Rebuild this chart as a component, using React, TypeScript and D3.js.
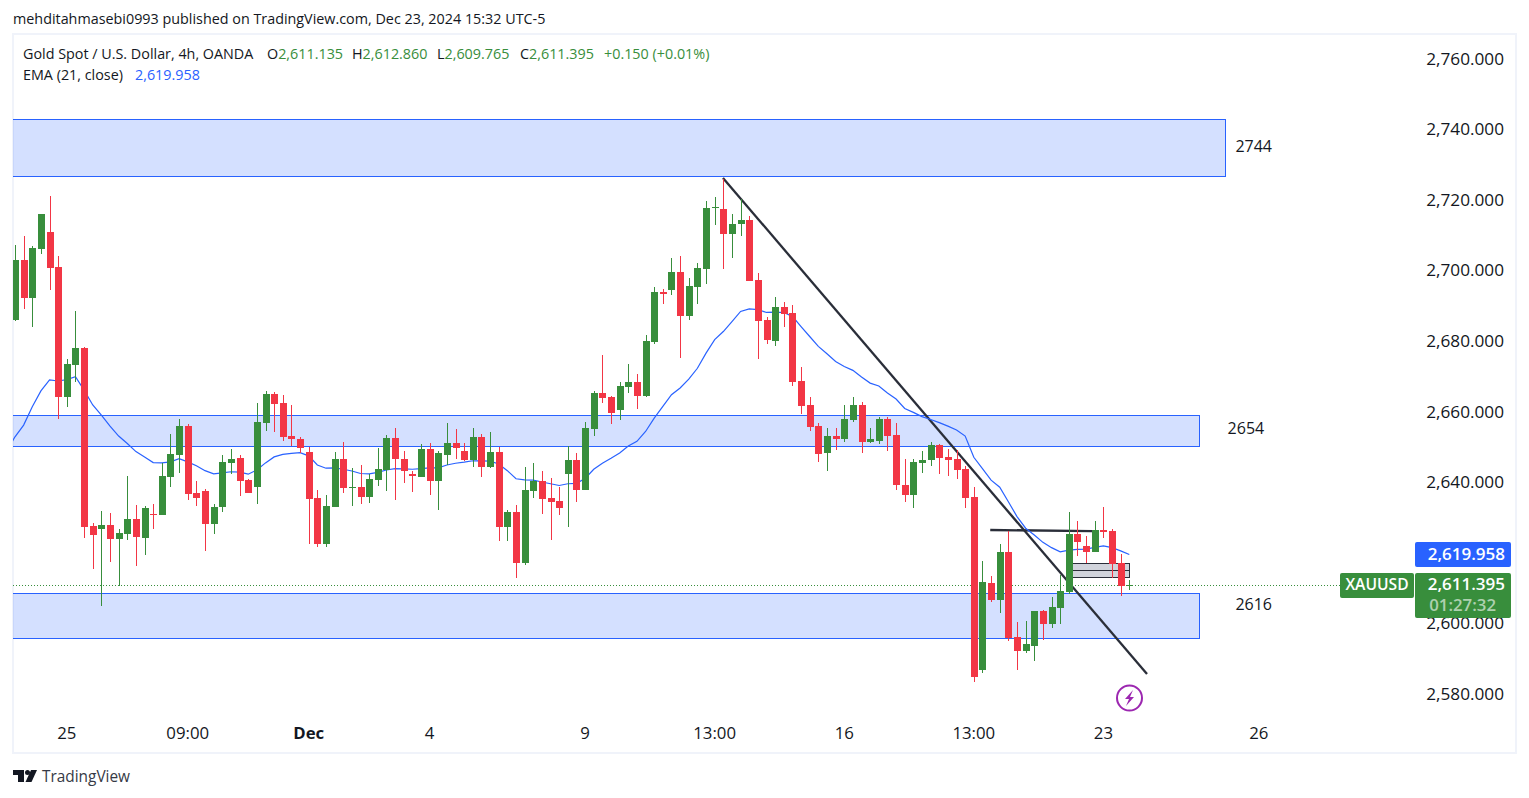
import * as d3 from 'd3';

const W = 1529, H = 798;
const PLOT_L = 13, PLOT_R = 1515, PLOT_T = 35, PLOT_B = 753;
const UP = '#388e3c', DOWN = '#f23645', BLUE = '#2962ff', INK = '#131722';
const FONT = "'Open Sans', sans-serif";

const opens = [
  2686.4, 2703.3, 2692.7, 2706.5, 2711.3, 2701.4, 2664.5, 2673.6, 2678.4, 2628.0,
  2627.2, 2628.3, 2624.3, 2625.7, 2630.0, 2624.6, 2631.4, 2631.1, 2641.9, 2648.1,
  2656.3, 2637.4, 2637.9, 2628.6, 2633.4, 2645.9, 2647.3, 2641.0, 2639.1, 2657.2,
  2665.4, 2662.8, 2653.5, 2652.7, 2649.0, 2636.0, 2622.9, 2633.4, 2647.0, 2638.8,
  2639.1, 2636.2, 2641.1, 2643.9, 2652.9, 2647.0, 2642.8, 2641.9, 2649.8, 2640.8,
  2648.1, 2651.5, 2649.3, 2646.7, 2653.2, 2644.7, 2649.0, 2627.7, 2632.0, 2617.5,
  2637.9, 2640.8, 2636.0, 2635.1, 2642.8, 2646.7, 2638.2, 2655.5, 2665.7, 2664.6,
  2660.9, 2667.4, 2668.9, 2664.9, 2680.2, 2694.3, 2694.9, 2700.0, 2687.6, 2695.8,
  2700.9, 2718.1, 2717.9, 2710.8, 2713.6, 2714.7, 2697.7, 2686.4, 2680.5, 2690.1,
  2688.4, 2669.1, 2662.3, 2656.4, 2648.8, 2653.6, 2652.7, 2658.1, 2662.3, 2651.9,
  2652.2, 2658.3, 2653.8, 2639.6, 2636.8, 2645.9, 2646.7, 2651.0, 2647.6, 2647.0,
  2644.2, 2636.2, 2587.2, 2611.9, 2607.1, 2620.7, 2596.6, 2592.6, 2594.0, 2603.9,
  2600.3, 2604.8, 2609.3, 2625.8, 2622.4, 2620.7, 2626.9, 2626.6, 2617.5, 2611.135,
];
const highs = [
  2707.6, 2710.1, 2707.3, 2716.4, 2721.5, 2704.5, 2675.3, 2688.9, 2678.7, 2628.9,
  2632.3, 2631.7, 2627.2, 2642.2, 2634.0, 2633.7, 2634.2, 2645.8, 2654.1, 2658.3,
  2656.9, 2640.8, 2638.5, 2634.2, 2648.1, 2649.8, 2648.1, 2641.3, 2662.8, 2666.2,
  2666.0, 2665.1, 2662.3, 2653.2, 2650.5, 2638.2, 2636.8, 2649.0, 2651.8, 2644.5,
  2645.3, 2642.8, 2650.1, 2653.8, 2655.8, 2649.3, 2643.6, 2651.2, 2651.5, 2649.3,
  2657.2, 2655.5, 2651.5, 2655.8, 2654.1, 2654.6, 2650.4, 2632.6, 2634.0, 2644.7,
  2645.9, 2643.6, 2641.6, 2639.1, 2650.7, 2648.7, 2657.5, 2666.3, 2676.5, 2664.9,
  2668.9, 2674.0, 2671.1, 2682.2, 2695.8, 2695.2, 2704.0, 2704.5, 2698.3, 2702.6,
  2720.1, 2721.3, 2726.4, 2716.4, 2720.7, 2715.9, 2699.7, 2687.3, 2692.9, 2691.5,
  2690.7, 2673.1, 2664.6, 2657.3, 2655.8, 2655.8, 2662.3, 2664.6, 2663.2, 2655.8,
  2658.9, 2658.9, 2657.2, 2647.0, 2647.0, 2649.3, 2651.8, 2651.2, 2649.8, 2649.5,
  2645.0, 2639.1, 2618.1, 2613.9, 2622.9, 2626.6, 2600.8, 2601.1, 2603.9, 2604.2,
  2607.9, 2614.1, 2632.0, 2629.4, 2625.2, 2629.4, 2633.4, 2627.2, 2620.1, 2612.86,
];
const lows = [
  2686.1, 2689.5, 2684.4, 2705.0, 2694.8, 2658.3, 2661.7, 2668.8, 2624.6, 2615.8,
  2605.4, 2617.8, 2611.0, 2624.0, 2616.7, 2619.8, 2627.2, 2631.1, 2639.1, 2643.0,
  2635.4, 2633.7, 2620.9, 2625.7, 2632.0, 2642.7, 2636.5, 2637.4, 2634.2, 2654.9,
  2654.6, 2652.1, 2650.7, 2648.6, 2622.9, 2622.1, 2622.1, 2633.4, 2637.4, 2633.7,
  2634.3, 2634.5, 2639.4, 2637.9, 2635.4, 2640.2, 2637.7, 2641.9, 2636.8, 2632.6,
  2645.3, 2647.0, 2646.4, 2644.7, 2641.9, 2644.5, 2623.8, 2623.8, 2613.3, 2617.0,
  2636.0, 2631.4, 2624.1, 2631.1, 2627.7, 2634.8, 2638.2, 2653.5, 2662.9, 2657.0,
  2658.1, 2665.7, 2661.2, 2664.6, 2679.6, 2691.0, 2693.5, 2675.7, 2686.4, 2691.0,
  2696.6, 2713.3, 2700.9, 2704.0, 2710.2, 2697.5, 2675.4, 2679.6, 2679.1, 2684.4,
  2667.7, 2659.8, 2655.0, 2646.2, 2643.7, 2649.6, 2651.9, 2657.5, 2648.8, 2651.6,
  2651.3, 2649.3, 2638.2, 2634.8, 2633.1, 2643.0, 2645.0, 2642.7, 2642.2, 2641.3,
  2633.1, 2583.8, 2586.4, 2606.5, 2603.4, 2595.4, 2587.2, 2592.1, 2589.8, 2595.7,
  2599.1, 2600.3, 2608.8, 2619.5, 2617.5, 2620.7, 2624.6, 2613.3, 2608.2, 2609.765,
];
const closes = [
  2703.3, 2692.7, 2706.7, 2716.4, 2701.1, 2664.5, 2673.9, 2678.4, 2627.7, 2625.5,
  2628.3, 2624.3, 2626.0, 2630.0, 2624.9, 2633.1, 2631.1, 2642.2, 2648.4, 2656.3,
  2637.1, 2635.9, 2628.6, 2633.4, 2646.1, 2647.0, 2640.8, 2637.4, 2657.5, 2665.4,
  2662.6, 2653.2, 2652.7, 2650.1, 2635.7, 2622.9, 2633.7, 2647.0, 2638.8, 2639.1,
  2636.2, 2641.3, 2644.2, 2652.9, 2647.0, 2643.6, 2642.2, 2649.8, 2640.8, 2648.7,
  2651.5, 2650.1, 2646.7, 2653.2, 2644.7, 2649.0, 2627.7, 2632.0, 2617.5, 2638.2,
  2640.8, 2635.7, 2634.8, 2633.1, 2646.7, 2638.2, 2655.8, 2665.7, 2664.3, 2660.1,
  2667.7, 2668.9, 2664.9, 2680.5, 2694.3, 2693.8, 2700.0, 2687.6, 2696.0, 2701.1,
  2718.1, 2718.4, 2710.8, 2713.6, 2714.7, 2697.5, 2686.1, 2680.8, 2690.1, 2688.1,
  2668.9, 2662.1, 2656.1, 2648.5, 2653.6, 2652.7, 2658.4, 2662.3, 2651.9, 2652.7,
  2658.4, 2653.5, 2639.6, 2636.8, 2646.1, 2646.7, 2651.0, 2647.3, 2646.7, 2643.9,
  2635.9, 2585.3, 2612.2, 2607.1, 2620.7, 2596.3, 2592.6, 2594.6, 2603.9, 2600.3,
  2605.1, 2609.6, 2625.8, 2623.5, 2620.7, 2626.9, 2626.3, 2617.3, 2611.0, 2611.395,
];
// EMA (21, close), one reading per slot; slot 0 sits just off the left edge
const ema = [
  2649.0,
  2653.3, 2656.6, 2661.8, 2666.3, 2669.4, 2669.1, 2669.5, 2670.3, 2666.5, 2662.3,
  2659.4, 2656.3, 2653.5, 2651.4, 2649.1, 2647.6, 2646.0, 2645.9, 2646.2, 2647.1,
  2646.2, 2645.1, 2643.7, 2642.8, 2643.1, 2643.4, 2643.3, 2642.7, 2643.9, 2645.9,
  2647.6, 2648.3, 2648.6, 2648.8, 2647.9, 2645.3, 2644.4, 2644.5, 2644.1, 2643.6,
  2642.9, 2642.8, 2643.2, 2643.9, 2644.3, 2644.2, 2644.1, 2644.3, 2644.5, 2644.5,
  2645.3, 2645.8, 2646.1, 2646.5, 2646.5, 2646.4, 2645.6, 2643.7, 2641.4, 2641.1,
  2641.0, 2640.5, 2640.0, 2639.5, 2640.0, 2640.1, 2641.5, 2644.1, 2645.8, 2647.2,
  2648.7, 2650.7, 2652.0, 2654.8, 2658.6, 2661.9, 2665.2, 2667.1, 2669.6, 2672.7,
  2677.0, 2680.8, 2683.1, 2685.9, 2688.8, 2689.5, 2689.3, 2688.5, 2688.6, 2688.5,
  2687.4, 2684.5, 2681.7, 2678.9, 2676.8, 2674.6, 2673.2, 2672.1, 2670.2, 2668.5,
  2667.7, 2665.7, 2664.0, 2661.3, 2660.2, 2659.0, 2658.2, 2657.3, 2656.3, 2655.2,
  2653.5, 2647.5, 2644.3, 2641.0, 2639.0, 2634.9, 2630.7, 2627.4, 2625.5, 2623.4,
  2621.9, 2620.7, 2621.2, 2621.4, 2621.5, 2622.0, 2622.4, 2621.9, 2621.0, 2619.958,
];

const priceTicks = [2760, 2740, 2720, 2700, 2680, 2660, 2640, 2620, 2600, 2580];
const timeLabels = ['25', '09:00', 'Dec', '4', '9', '13:00', '16', '13:00', '23', '26'];
const timeSlots = [7, 21, 35, 49, 67, 82, 97, 112, 127, 145];
const lastPrice = 2611.395;
const lastEma = 2619.958;

// supply / demand boxes and their hand-placed labels
const zoneLows = [2727.1, 2650.6, 2596.2];
const zoneHighs = [2743.3, 2659.4, 2609.0];
const zoneEnds = [141.1, 138.07, 138.07];
const zoneLabels = ['2744', '2654', '2616'];
const zoneLabelSlots = [144.4, 143.5, 144.4];
const zoneLabelPrices = [2735.6, 2655.8, 2605.9];

const crisp = (v: number) => Math.round(v) + 0.5;

export default function App() {
  const x = d3.scaleLinear().domain([1, 130]).range([15, 1129.3]);
  const y = d3.scaleLinear().domain([2580, 2760]).range([695.6, 60]);
  const emaLine = d3.line<number>().x((_, i) => x(i)).y((d) => y(d));

  const legendGreen = [
    ['O', '2,611.135'], ['H', '2,612.860'], ['L', '2,609.765'], ['C', '2,611.395'],
  ];

  return (
    <svg
      width={W}
      height={H}
      style={{ position: 'absolute', left: 0, top: 0, background: '#fff' }}
      fontFamily={FONT}
    >
      <defs>
        <clipPath id="plot">
          <rect x={PLOT_L} y={PLOT_T} width={1402} height={PLOT_B - PLOT_T} />
        </clipPath>
      </defs>

      <text x={13} y={24} fontSize={14.35} fill={INK}>
        mehditahmasebi0993 published on TradingView.com, Dec 23, 2024 15:32 UTC-5
      </text>

      <rect x={PLOT_L} y={PLOT_T - 1} width={PLOT_R - PLOT_L + 1} height={PLOT_B - PLOT_T + 1} fill="none" stroke="#f0f3fa" strokeWidth={2} />

      <g clipPath="url(#plot)">
        {zoneLows.map((lo, i) => {
          const top = crisp(y(zoneHighs[i]));
          const bot = crisp(y(lo));
          return (
            <rect
              key={i}
              x={PLOT_L - 2}
              y={top}
              width={crisp(x(zoneEnds[i])) - PLOT_L + 2}
              height={bot - top}
              fill={BLUE}
              fillOpacity={0.2}
              stroke={BLUE}
            />
          );
        })}

        <line x1={PLOT_L} x2={1340} y1={crisp(y(lastPrice))} y2={crisp(y(lastPrice))} stroke={UP} strokeDasharray="1 2" />

        {/* grey position box by the last candles */}
        <rect x={x(123)} y={crisp(y(2617.5))} width={crisp(x(130)) - x(123)} height={crisp(y(2613.5)) - crisp(y(2617.5))} fill="#d1d4dc" stroke="#2a2e39" strokeWidth={1} />
        <line x1={x(123)} x2={x(130)} y1={crisp(y(2615.5))} y2={crisp(y(2615.5))} stroke="#2a2e39" strokeWidth={1} />

        {/* trend lines */}
        <line x1={x(82.96)} y1={y(2726.6)} x2={x(132.05)} y2={y(2586.1)} stroke="#2a2e39" strokeWidth={2.3} />
        <line x1={x(113.9)} y1={y(2626.9)} x2={x(125.7)} y2={y(2626.6)} stroke="#2a2e39" strokeWidth={2.3} />

        <path d={emaLine(ema) ?? ''} fill="none" stroke={BLUE} strokeWidth={1.2} />

        {opens.map((o, i) => {
          const c = closes[i];
          const color = c >= o ? UP : DOWN;
          const cx = Math.round(x(i + 1));
          const top = Math.round(y(Math.max(o, c)));
          const bot = Math.round(y(Math.min(o, c)));
          return (
            <g key={i} fill={color}>
              <rect x={cx} y={Math.round(y(highs[i]))} width={1} height={Math.max(1, Math.round(y(lows[i])) - Math.round(y(highs[i])))} />
              <rect x={cx - 3} y={top} width={7} height={Math.max(1, bot - top)} />
            </g>
          );
        })}
      </g>

      {zoneLabels.map((t, i) => (
        <text key={t} x={x(zoneLabelSlots[i])} y={y(zoneLabelPrices[i])} dy="0.36em" fontSize={16} fill={INK} textAnchor="middle">
          {t}
        </text>
      ))}

      {/* legend */}
      <text x={23} y={59} fontSize={14.35} fill={INK}>Gold Spot / U.S. Dollar, 4h, OANDA</text>
      {legendGreen.map(([k, v], i) => (
        <text key={k} x={[267, 352, 437, 520][i]} y={59} fontSize={14.35} fill={INK}>
          {k}<tspan fill={UP}>{v}</tspan>
        </text>
      ))}
      <text x={604} y={59} fontSize={14.35} fill={UP}>+0.150 (+0.01%)</text>
      <text x={23} y={80} fontSize={14.35} fill={INK}>EMA (21, close)</text>
      <text x={135} y={80} fontSize={14.35} fill={BLUE}>2,619.958</text>

      {/* price axis */}
      {priceTicks.map((t) => (
        <text key={t} x={1504} y={y(t) + 4.5} fontSize={17.2} fontWeight={500} fill={INK} textAnchor="end">
          {d3.format(',.3f')(t)}
        </text>
      ))}
      <rect x={1415} y={542} width={96} height={25} rx={2} fill={BLUE} />
      <text x={1505} y={y(lastEma) + 5} fontSize={17} fontWeight={600} fill="#fff" textAnchor="end">{d3.format(',.3f')(lastEma)}</text>
      <rect x={1340} y={573} width={74} height={25} rx={2} fill={UP} />
      <text x={1377} y={y(lastPrice) + 5.5} fontSize={15.6} fontWeight={600} fill="#fff" textAnchor="middle">XAUUSD</text>
      <rect x={1415} y={573} width={96} height={45} rx={2} fill={UP} />
      <text x={1505} y={y(lastPrice) + 5.5} fontSize={17} fontWeight={600} fill="#fff" textAnchor="end">{d3.format(',.3f')(lastPrice)}</text>
      <text x={1496} y={610.5} fontSize={16.8} fontWeight={600} fill="#fff" fillOpacity={0.6} textAnchor="end">01:27:32</text>

      {/* time axis */}
      {timeLabels.map((t, i) => (
        <text
          key={i}
          x={x(timeSlots[i])}
          y={739}
          fontSize={16.8}
          fontWeight={t === 'Dec' ? 700 : 400}
          fill={INK}
          textAnchor="middle"
        >
          {t}
        </text>
      ))}

      {/* flash icon */}
      <circle cx={1129.5} cy={698} r={12.5} fill="#fff" stroke="#9c27b0" strokeWidth={2} />
      <path d="M1133 690 L1125 699 L1129 699 L1126 706 L1134 697 L1130 697 Z" fill="#9c27b0" />

      {/* TradingView mark */}
      <g fill={INK}>
        <path d="M13 770 H24 V782 H18 V775 H13 Z" />
        <circle cx={27.5} cy={772.5} r={2.5} />
        <path d="M31 770 H37 L31.5 782 H25.5 Z" />
      </g>
      <text x={42} y={782} fontSize={15.4} fill="#363a45">TradingView</text>
    </svg>
  );
}
